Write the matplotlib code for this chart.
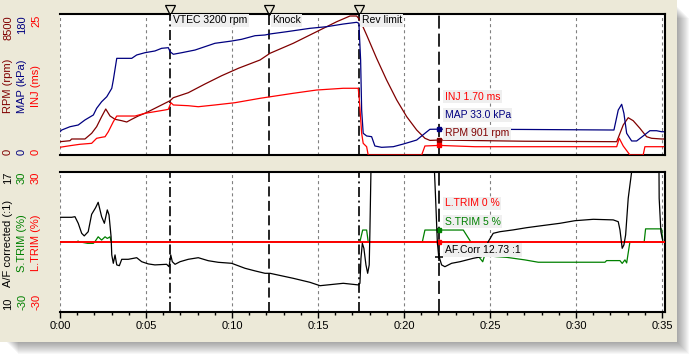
import matplotlib
matplotlib.use("Agg")
import matplotlib.pyplot as plt
from matplotlib.patches import Rectangle
from matplotlib.ticker import MultipleLocator, FuncFormatter
import matplotlib.transforms as mtransforms

plt.rcParams['font.family'] = ['Liberation Sans', 'DejaVu Sans']
plt.rcParams['lines.scale_dashes'] = False

# ---- data (time in seconds) ----
map_t = [0, 0.1, 0.58, 1.06, 1.45, 1.94, 2.13, 2.42, 2.72, 3.01, 3.10, 3.30, 3.59, 4.17, 4.46,
         4.94, 5.52, 5.91, 6.30, 6.40, 6.59, 7.08, 7.85, 8.43, 9.01, 9.98, 10.56, 11.34, 11.92,
         12.21, 13.18, 14.53, 15.51, 16.47, 17.25, 17.38, 17.48, 17.54, 17.63, 17.83, 18.12,
         18.31, 18.70, 19.38, 19.96, 20.74, 21.22, 21.51, 22.05, 27.0, 32.21, 32.46, 32.66,
         32.79, 32.95, 33.24, 33.53, 33.91, 34.30, 34.69, 34.98, 35.1]
map_v = [29.7, 31.9, 36.1, 38.3, 44.7, 51.1, 59.6, 68.0, 74.4, 85.1, 95.7, 123.4, 123.4, 123.4,
         127.7, 130.6, 132.8, 136.2, 137.0, 131.9, 128.6, 130.6, 134.0, 138.3, 142.6, 145.5,
         147.7, 152.3, 153.2, 154.5, 157.4, 161.7, 163.8, 167.2, 169.4, 168.1, 121.3, 57.4,
         27.7, 24.3, 23.4, 11.5, 9.8, 10.6, 14.0, 19.1, 27.7, 32.8, 33.0, 32.6, 31.9, 57.4,
         64.7, 53.2, 27.7, 17.9, 17.9, 24.3, 31.0, 31.0, 29.7, 29.7]

rpm_t = [0, 0.58, 0.68, 1.45, 1.84, 2.13, 2.42, 2.66, 2.91, 3.20, 3.59, 3.88, 4.17, 4.55, 4.94,
         5.52, 6.40, 6.59, 7.46, 8.43, 9.40, 10.37, 11.63, 12.21, 13.56, 14.92, 16.09, 16.86,
         17.25, 17.44, 17.83, 18.41, 18.99, 19.58, 20.16, 20.74, 21.22, 21.51, 22.05, 27.0,
         32.37, 32.75, 33.04, 33.33, 33.72, 34.11, 34.40, 34.98, 35.1]
rpm_v = [802, 862, 965, 965, 1308, 1706, 2309, 2773, 2351, 2152, 2068, 1989, 2152, 2351, 2514,
         2815, 3273, 3454, 3755, 4280, 4780, 5226, 5727, 6131, 6733, 7433, 8035, 8379, 8379,
         8138, 7234, 5829, 4521, 3315, 2309, 1507, 1007, 880, 901, 830, 802, 1808, 2248, 2068,
         1609, 1103, 1007, 965, 965]

inj_t = [0, 0.58, 1.16, 1.84, 2.13, 2.42, 2.62, 2.81, 3.10, 3.30, 3.59, 4.36, 4.94, 6.10, 6.30,
         6.45, 6.59, 7.46, 8.04, 9.01, 10.17, 11.63, 13.56, 14.92, 16.47, 17.34, 17.40, 17.54,
         17.63, 17.83, 17.92, 21.03, 21.22, 22.05, 24.13, 32.37, 32.52, 32.75, 33.14, 33.91,
         34.01, 34.98, 35.1]
inj_v = [1.37, 1.65, 1.90, 2.07, 2.96, 3.14, 3.24, 4.13, 5.90, 6.91, 6.91, 6.91, 7.39, 7.98, 8.10,
         9.27, 8.87, 8.74, 8.56, 8.87, 9.27, 10.05, 10.94, 11.52, 11.83, 11.83, 10.05, 3.85,
         2.07, 1.47, 0, 0, 1.60, 1.70, 1.47, 1.47, 2.96, 1.60, 0, 0, 1.47, 1.47, 1.47]

af_t = [0, 0.68, 0.87, 1.06, 1.26, 1.41, 1.64, 1.84, 2.07, 2.22, 2.42, 2.58, 2.75, 2.85, 2.97,
        3.01, 3.10, 3.20, 3.30, 3.45, 3.59, 3.97, 4.46, 4.75, 5.13, 5.52, 6.20, 6.34, 6.44,
        6.53, 6.69, 6.98, 7.46, 8.04, 8.62, 9.20, 9.98, 10.76, 11.34, 11.92, 12.21, 13.56,
        14.53, 15.12, 16.47, 17.34, 17.44, 17.50, 17.58, 17.67, 17.79, 17.89, 17.98, 18.02,
        18.08, 18.4, 21.0, 21.75, 21.84, 21.94, 22.03, 22.05, 22.19, 22.38, 22.77, 23.26,
        24.03, 24.52, 24.71, 24.90, 25.19, 25.58, 26.35, 27.13, 27.91, 29.07, 29.94, 31.01,
        32.17, 32.46, 32.56, 32.69, 32.79, 32.89, 33.04, 33.24, 33.6, 34.6, 34.83, 34.84,
        34.94, 35.04]
af_v = [14.72, 14.72, 14.75, 14.42, 13.92, 13.79, 14.00, 14.87, 15.20, 15.47, 14.75, 14.42,
        15.09, 14.84, 13.75, 12.84, 12.42, 12.84, 12.34, 12.30, 12.62, 12.62, 12.70, 12.50,
        12.39, 12.34, 12.37, 12.25, 12.84, 12.50, 12.37, 12.50, 12.62, 12.70, 12.55, 12.47,
        12.42, 12.17, 12.04, 11.92, 11.92, 11.67, 11.47, 11.30, 11.42, 11.34, 11.42, 12.67,
        13.42, 13.17, 12.34, 11.92, 12.34, 14.00, 17.0, 19.5, 19.5, 17.5, 15.67, 13.50, 12.67,
        12.73, 12.34, 12.25, 12.42, 12.50, 12.67, 12.75, 13.09, 13.50, 13.92, 14.00, 14.09,
        14.20, 14.29, 14.42, 14.55, 14.62, 14.59, 14.50, 14.09, 13.17, 13.34, 13.84, 15.67,
        17.0, 19.0, 19.0, 17.0, 15.67, 14.00, 13.59]

strim_t = [0, 1.0, 1.05, 1.1, 1.6, 1.94, 2.03, 2.22, 2.42, 2.62, 2.75, 2.91, 2.97, 17.44, 17.60,
           17.83, 17.92, 21.07, 21.22, 23.45, 23.88, 24.32, 24.42, 24.58, 24.67, 24.81, 25.38,
           25.97, 27.03, 27.81, 31.69, 31.78, 32.56, 32.69, 32.85, 32.95, 33.14, 33.97, 34.05,
           34.98, 35.05]
strim_v = [0, 0, 0.3, 0, -0.7, -0.7, 0, 2.1, 0.7, 2.1, 1.4, 2.1, 0, 0, 5, 5, 0, 0, 5, 5, 0,
           -6.4, -7.1, -8.6, -6.4, -6.0, -6.4, -6.7, -7.8, -8.8, -8.8, -8.1, -8.1, -9.3, -7.8,
           -9.1, 0, 0, 5.5, 5.5, 0]

ltrim_t = [0, 35.2]
ltrim_v = [0, 0]

event_t = [6.41, 12.17, 17.37]
event_labels = ["VTEC 3200 rpm", "Knock", "Rev limit"]
cursor_t = 22.05
cursor_texts_top = ["INJ 1.70 ms", "MAP 33.0 kPa", "RPM 901 rpm"]
cursor_texts_bot = ["L.TRIM 0 %", "S.TRIM 5 %", "AF.Corr 12.73 :1"]

DARKRED = '#800000'
NAVY = '#000080'
RED = '#FF0000'
GREEN = '#008000'
BEIGE = '#ECE9D8'
LABELBG = '#EFEFEF'

W, H = 689, 355
fig = plt.figure(figsize=(W / 100, H / 100), dpi=100)
fig.patch.set_facecolor('white')


def px(x, y):
    return x / W, 1 - y / H


# shadow and beige panel
for k in range(1, 13):
    fig.patches.append(Rectangle(px(6 + k, 342 + k), (677 - 6) / W, (342 - 6) / H,
                                 transform=fig.transFigure, fc='black', alpha=0.03,
                                 ec='none', zorder=-3))
fig.patches.append(Rectangle((0, 1 - 342 / H), 677 / W, 342 / H, transform=fig.transFigure,
                             fc=BEIGE, ec='none', zorder=-2))

xmax = 35.15
ax_top = fig.add_axes([60 / W, 1 - 155 / H, 604.5 / W, 141 / H])
ax_bot = fig.add_axes([60 / W, 1 - 311.7 / H, 604.5 / W, 140 / H])

for ax in (ax_top, ax_bot):
    ax.set_xlim(0, xmax)
    ax.set_facecolor('white')
    ax.spines['left'].set_visible(False)
    for s in ('top', 'bottom', 'right'):
        ax.spines[s].set_linewidth(1.5)
        ax.spines[s].set_color('black')
    ax.set_yticks([])
    for g in range(0, 36, 5):
        ax.axvline(g, color='#808080', lw=0.8, ls=(0, (2.2, 2.2)), zorder=0.5)
    # event lines
    ax.axvline(event_t[0], color='black', lw=1.2, ls=(0, (7.2, 2.6, 1.4, 2.6)), zorder=1)
    ax.axvline(event_t[1], color='black', lw=1.2, ls=(0, (7.2, 3.2)), zorder=1)
    ax.axvline(event_t[2], color='black', lw=1.2, ls=(0, (7.2, 2.6, 1.4, 2.6)), zorder=1)
    ax.axvline(cursor_t, color='black', lw=1.2, ls=(0, (9.4, 3.6)), zorder=1)

ax_top.set_xticks([])
ax_top.set_ylim(0, 8500)

# top panel series
ax_top.plot(rpm_t, rpm_v, color=DARKRED, lw=0.9, zorder=3)
ax_map = ax_top.twinx()
ax_map.set_ylim(0, 180)
ax_map.plot(map_t, map_v, color=NAVY, lw=0.9, zorder=3)
ax_inj = ax_top.twinx()
ax_inj.set_ylim(0, 25)
ax_inj.plot(inj_t, inj_v, color=RED, lw=0.9, zorder=3)
for a in (ax_map, ax_inj):
    a.set_yticks([])
    for s in a.spines.values():
        s.set_visible(False)
    a.set_xlim(0, xmax)

ax_top.plot([cursor_t], [901], marker='s', ms=2.2, color=DARKRED, zorder=4)
ax_map.plot([cursor_t], [33.0], marker='s', ms=2.2, color=NAVY, zorder=4)
ax_inj.plot([cursor_t], [1.70], marker='s', ms=2.2, color=RED, zorder=4)

# event markers and labels
trans_top = mtransforms.blended_transform_factory(ax_inj.transData, ax_inj.transAxes)
for t, lab in zip(event_t, event_labels):
    ax_inj.plot([t], [1.03], marker='v', ms=7, mfc='none', mec='black', mew=0.9,
                transform=trans_top, clip_on=False, zorder=5)
    ax_inj.annotate(lab, xy=(t, 0.955), xycoords=trans_top, xytext=(2, 0),
                    textcoords='offset points', fontsize=7.5, ha='left', va='center',
                    bbox=dict(boxstyle='square,pad=0.15', fc=LABELBG, ec='none'), zorder=6)

for txt, yf, c in zip(cursor_texts_top, [0.413, 0.284, 0.154], [RED, NAVY, DARKRED]):
    ax_inj.annotate(txt, xy=(cursor_t, yf), xycoords=trans_top, xytext=(4, 0),
                    textcoords='offset points', fontsize=7.5, color=c, ha='left',
                    va='center', bbox=dict(boxstyle='square,pad=0.15', fc=LABELBG, ec='none'),
                    zorder=6)

# bottom panel series
ax_bot.set_ylim(-30, 30)
ax_bot.plot(strim_t, strim_v, color=GREEN, lw=0.9, zorder=3)
ax_bot.plot(ltrim_t, ltrim_v, color=RED, lw=1.4, zorder=3.5)
ax_af = ax_bot.twinx()
ax_af.set_ylim(10, 17)
ax_af.set_xlim(0, xmax)
ax_af.set_yticks([])
for s in ax_af.spines.values():
    s.set_visible(False)
ax_af.plot(af_t, af_v, color='black', lw=0.9, zorder=3)
ax_af.plot([cursor_t], [12.73], marker='+', ms=6, mew=1.1, color='black', zorder=4)
ax_bot.plot([cursor_t], [5], marker='s', ms=2.2, color=GREEN, zorder=4)
ax_bot.plot([cursor_t], [0], marker='s', ms=2.2, color=RED, zorder=4)

trans_bot = mtransforms.blended_transform_factory(ax_af.transData, ax_af.transAxes)
for txt, yf, c in zip(cursor_texts_bot, [0.774, 0.643, 0.441], [RED, GREEN, 'black']):
    ax_af.annotate(txt, xy=(cursor_t, yf), xycoords=trans_bot, xytext=(4, 0),
                   textcoords='offset points', fontsize=7.5, color=c, ha='left',
                   va='center', bbox=dict(boxstyle='square,pad=0.15', fc=LABELBG, ec='none'),
                   zorder=6)

ax_bot.xaxis.set_major_locator(MultipleLocator(5))
ax_bot.xaxis.set_minor_locator(MultipleLocator(1))
ax_bot.xaxis.set_major_formatter(FuncFormatter(lambda v, p: "0:%02d" % int(round(v))))
ax_bot.tick_params(axis='x', which='major', direction='out', length=4, width=1, pad=3,
                   labelsize=8)
ax_bot.tick_params(axis='x', which='minor', direction='out', length=2.3, width=1)

# left axis labels
def vlabel(x, y, s, c, va):
    fig.text(*px(x, y), s, rotation=90, color=c, fontsize=8, ha='center', va=va)

cols = [(8, DARKRED), (22, NAVY), (36, RED)]
for (x, c), top, mid in zip(cols, ["8500", "180", "25"], ["RPM (rpm)", "MAP (kPa)", "INJ (ms)"]):
    vlabel(x, 15, top, c, 'top')
    vlabel(x, 155, "0", c, 'bottom')
    vlabel(x, 86, mid, c, 'center')

cols = [(8, 'black'), (22, GREEN), (36, RED)]
for (x, c), top, bot, mid in zip(cols, ["17", "30", "30"], ["10", "-30", "-30"],
                                 ["A/F corrected (:1)", "S.TRIM (%)", "L.TRIM (%)"]):
    vlabel(x, 172, top, c, 'top')
    vlabel(x, 310, bot, c, 'bottom')
    vlabel(x, 243, mid, c, 'center')

fig.savefig("out.png", dpi=100)
